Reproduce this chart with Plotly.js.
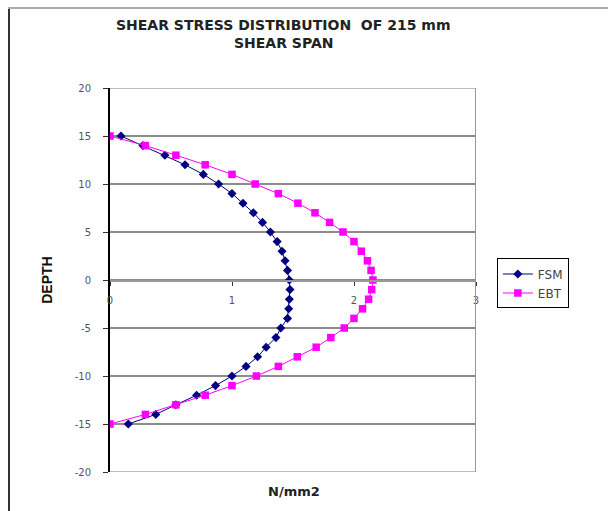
<!DOCTYPE html>
<html>
<head>
<meta charset="utf-8">
<script src="https://cdn.plot.ly/plotly-3.0.1.min.js"></script>
<style>
  html, body { margin: 0; padding: 0; background: #fff; }
  #wrap { position: relative; width: 608px; height: 511px; overflow: hidden; }
  #chart { position: absolute; left: 0; top: 0; width: 608px; height: 511px; }
  #bl { position: absolute; left: 8px; top: 7px; width: 2px; height: 504px; background: #333; }
  #bt { position: absolute; left: 8px; top: 7px; width: 600px; height: 2px; background: #aaa; }
</style>
</head>
<body>
<div id="wrap">
  <div id="chart"></div>
  <div id="bl"></div>
  <div id="bt"></div>
</div>
<script>
// Depth values (vertical axis)
const depth = [15, 14, 13, 12, 11, 10, 9, 8, 7, 6, 5, 4, 3, 2, 1, 0,
               -1, -2, -3, -4, -5, -6, -7, -8, -9, -10, -11, -12, -13, -14, -15];
// FSM shear stress (N/mm2)
const fsm = [0.09, 0.27, 0.45, 0.615, 0.765, 0.89, 1.0, 1.09, 1.175, 1.25, 1.315, 1.37, 1.41, 1.435, 1.455, 1.47,
             1.475, 1.47, 1.465, 1.455, 1.40, 1.36, 1.28, 1.21, 1.115, 1.0, 0.865, 0.71, 0.54, 0.375, 0.15];
// EBT shear stress (N/mm2)
const ebt = [0, 0.29, 0.54, 0.78, 1.0, 1.19, 1.38, 1.54, 1.68, 1.80, 1.91, 2.0, 2.06, 2.11, 2.14, 2.155,
             2.145, 2.12, 2.07, 2.0, 1.92, 1.81, 1.69, 1.535, 1.38, 1.2, 1.0, 0.78, 0.54, 0.29, 0];
const seriesNames = ['FSM', 'EBT'];
const xTicks = [0, 1, 2, 3];
const yTicks = [-20, -15, -10, -5, 0, 5, 10, 15, 20];
const titleLines = ['SHEAR STRESS DISTRIBUTION  OF 215 mm', 'SHEAR SPAN'];

const traces = [
  {
    x: fsm, y: depth, name: seriesNames[0], type: 'scatter', mode: 'lines+markers',
    line: {color: '#000080', width: 1},
    marker: {symbol: 'diamond', size: 7, color: '#000080'}
  },
  {
    x: ebt, y: depth, name: seriesNames[1], type: 'scatter', mode: 'lines+markers',
    line: {color: '#FF00FF', width: 1},
    marker: {symbol: 'square', size: 7.5, color: '#FF00FF'}
  }
];

const titleFont = {family: 'DejaVu Sans, Arial, sans-serif', size: 14, color: '#222'};

const layout = {
  width: 608, height: 511,
  margin: {l: 110, r: 132, t: 88, b: 39, pad: 0},
  paper_bgcolor: '#fff', plot_bgcolor: '#fff',
  showlegend: true,
  xaxis: {
    range: [0, 3], tickvals: xTicks, ticktext: xTicks.map(String),
    anchor: 'free', position: 0.5,
    showgrid: false, zeroline: false,
    showline: true, linecolor: '#999', linewidth: 1.5,
    ticks: 'outside', ticklen: 4, tickcolor: '#333', tickwidth: 1,
    ticklabelstandoff: 6,
    tickfont: {family: 'DejaVu Sans, Arial, sans-serif', size: 10, color: '#555'},
    fixedrange: true
  },
  yaxis: {
    range: [-20, 20], tickvals: yTicks, ticktext: yTicks.map(String),
    showgrid: true, gridcolor: '#8c8c8c', gridwidth: 1.5,
    zeroline: false,
    showline: true, linecolor: '#000', linewidth: 2,
    ticks: 'outside', ticklen: 5, tickcolor: '#333', tickwidth: 1,
    ticklabelstandoff: 10,
    tickfont: {family: 'DejaVu Sans, Arial, sans-serif', size: 10, color: '#555'},
    title: {text: '<b>DEPTH</b>', standoff: 19,
      font: {family: 'Liberation Sans Narrow, Arial Narrow, sans-serif', size: 14, color: '#111'}},
    fixedrange: true
  },
  annotations: [
    {text: '<b>' + titleLines[0] + '</b>', xref: 'paper', yref: 'paper',
     x: (283 - 110) / 366, y: (472 - 25) / 384, xanchor: 'center', yanchor: 'middle',
     showarrow: false, font: titleFont, borderpad: 0},
    {text: '<b>' + titleLines[1] + '</b>', xref: 'paper', yref: 'paper',
     x: (283 - 110) / 366, y: (472 - 43) / 384, xanchor: 'center', yanchor: 'middle',
     showarrow: false, font: titleFont, borderpad: 0},
    {text: '<b>N/mm2</b>', xref: 'paper', yref: 'paper', x: 0.503, y: -0.052,
     xanchor: 'center', yanchor: 'middle', showarrow: false,
     font: {family: 'DejaVu Sans, Arial, sans-serif', size: 13, color: '#222'}}
  ],
  legend: {
    x: 1.057, xanchor: 'left', y: 0.556, yanchor: 'top',
    bordercolor: '#000', borderwidth: 1, bgcolor: '#fff',
    font: {family: 'DejaVu Sans, Arial, sans-serif', size: 12, color: '#444'},
    tracegroupgap: 0, itemwidth: 30
  },
  shapes: [
    {type: 'line', xref: 'x', yref: 'y', x0: 3, x1: 3, y0: -20, y1: 20,
     line: {color: '#999', width: 2}},
    {type: 'line', xref: 'x', yref: 'y', x0: 0, x1: 3, y0: -20, y1: -20,
     line: {color: '#bbb', width: 2}, layer: 'below'},
    {type: 'line', xref: 'x', yref: 'y', x0: 0, x1: 3, y0: 20, y1: 20,
     line: {color: '#bbb', width: 2}, layer: 'below'}
  ]
};

Plotly.newPlot('chart', traces, layout, {displayModeBar: false, staticPlot: true});
</script>
</body>
</html>
